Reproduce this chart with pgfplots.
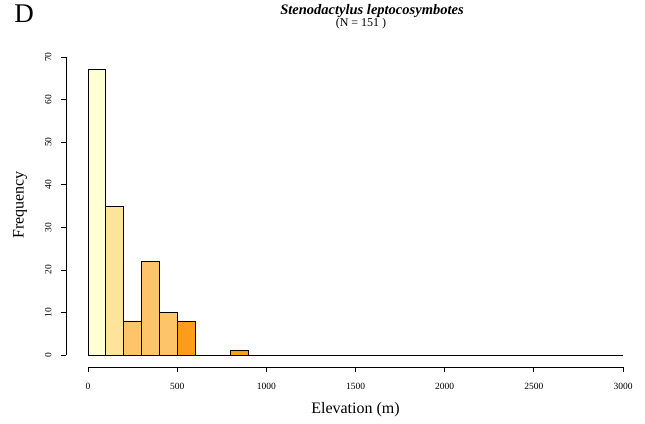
\documentclass[border=0pt]{standalone}
\usepackage{fontspec}
\setmainfont{Liberation Serif}
\usepackage{pgfplots}
\pgfplotsset{compat=1.18}

\definecolor{binA}{HTML}{FFFFD6}
\definecolor{binB}{HTML}{FEE49A}
\definecolor{binC}{HTML}{FEC46A}
\definecolor{binD}{HTML}{FE9D1C}

\begin{document}
\begin{tikzpicture}
\path[use as bounding box] (0,0) rectangle (645pt,423pt);
\begin{axis}[
    at={(88pt,68pt)}, anchor=south west,
    scale only axis, width=535pt, height=298pt,
    xmin=0, xmax=3000, ymin=0, ymax=70,
    axis lines=left,
    axis line style={-, black, line width=0.7pt},
    axis x line shift=12pt,
    axis y line shift=22pt,
    xtick={0,500,...,3000}, ytick={0,10,...,70},
    tick align=outside, major tick length=5pt,
    tick style={black, line width=0.7pt},
    ticklabel style={font=\fontsize{9.5}{10}\selectfont},
    /pgf/number format/assume math mode=true,
    /pgf/number format/1000 sep={},
    xticklabel style={yshift=-8pt},
    yticklabel style={xshift=-6pt, rotate=90, anchor=south},
    clip=false,
]
% zero-count bins drawn as a flat line
\addplot[black, line width=0.8pt] coordinates {(0,0) (3000,0)};
\addplot[ybar interval, fill=binA, draw=black, line width=0.8pt] coordinates {(0,67) (100,67)};
\addplot[ybar interval, fill=binB, draw=black, line width=0.8pt] coordinates {(100,35) (200,35)};
\addplot[ybar interval, fill=binC, draw=black, line width=0.8pt] coordinates {(200,8) (300,22) (400,10) (500,10)};
\addplot[ybar interval, fill=binD, draw=black, line width=0.8pt] coordinates {(500,8) (600,8)};
\addplot[ybar interval, fill=binD, draw=black, line width=0.8pt] coordinates {(800,1) (900,1)};
\end{axis}

\node[anchor=base, font=\fontsize{27}{30}\selectfont] at (24pt,400pt) {D};
\node[anchor=base, font=\fontsize{14.5}{16}\selectfont\bfseries\itshape] at (372pt,408pt) {Stenodactylus leptocosymbotes};
\node[anchor=base, font=\fontsize{12}{14}\selectfont] at (361pt,396pt) {(N = 151 )};
\node[anchor=base, font=\fontsize{16}{18}\selectfont] at (355.5pt,10pt) {Elevation (m)};
\node[rotate=90, font=\fontsize{16}{18}\selectfont] at (20pt,218pt) {Frequency};
\end{tikzpicture}
\end{document}
